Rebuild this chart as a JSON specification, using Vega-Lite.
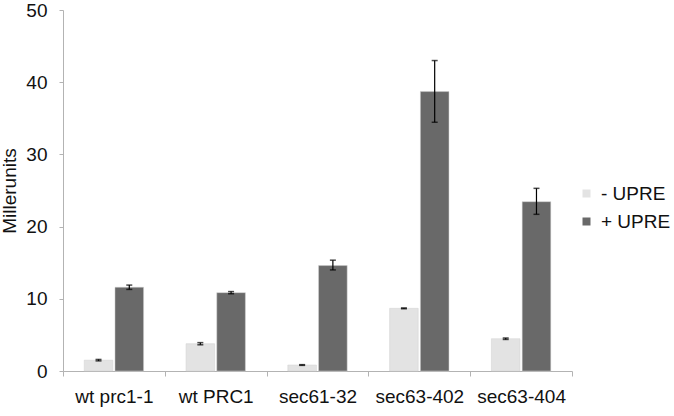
{
  "$schema": "https://vega.github.io/schema/vega-lite/v6.json",
  "width": 509,
  "height": 361,
  "autosize": {"type": "none"},
  "padding": {"left": 63, "top": 10, "right": 102, "bottom": 45},
  "background": "white",
  "config": {
    "view": {"stroke": null},
    "font": "Liberation Sans",
    "axis": {
      "domainColor": "#b3b3b3",
      "tickColor": "#b3b3b3",
      "grid": false,
      "labelFont": "Liberation Sans",
      "titleFont": "Liberation Sans",
      "labelColor": "#111",
      "titleColor": "#111",
      "labelFontSize": 19,
      "titleFontSize": 19,
      "titleFontWeight": "normal"
    }
  },
  "data": {
    "values": [
      {"strain": "wt prc1-1", "series": "- UPRE", "value": 1.5, "lo": 1.4, "hi": 1.6},
      {"strain": "wt prc1-1", "series": "+ UPRE", "value": 11.6, "lo": 11.3, "hi": 11.9},
      {"strain": "wt PRC1", "series": "- UPRE", "value": 3.78, "lo": 3.63, "hi": 3.93},
      {"strain": "wt PRC1", "series": "+ UPRE", "value": 10.85, "lo": 10.7, "hi": 11.0},
      {"strain": "sec61-32", "series": "- UPRE", "value": 0.83, "lo": 0.78, "hi": 0.88},
      {"strain": "sec61-32", "series": "+ UPRE", "value": 14.6, "lo": 14.0, "hi": 15.35},
      {"strain": "sec63-402", "series": "- UPRE", "value": 8.68, "lo": 8.62, "hi": 8.74},
      {"strain": "sec63-402", "series": "+ UPRE", "value": 38.7, "lo": 34.45, "hi": 43.0},
      {"strain": "sec63-404", "series": "- UPRE", "value": 4.47, "lo": 4.37, "hi": 4.57},
      {"strain": "sec63-404", "series": "+ UPRE", "value": 23.45, "lo": 21.7, "hi": 25.3}
    ]
  },
  "encoding": {
    "x": {
      "field": "strain",
      "type": "nominal",
      "sort": ["wt prc1-1", "wt PRC1", "sec61-32", "sec63-402", "sec63-404"],
      "scale": {"paddingInner": 0, "paddingOuter": 0},
      "axis": {"title": null, "labelAngle": 0, "tickBand": "extent", "tickSize": 5, "labelPadding": 11}
    },
    "xOffset": {
      "field": "series",
      "type": "nominal",
      "sort": ["- UPRE", "+ UPRE"],
      "scale": {"paddingInner": 0.07, "paddingOuter": 0.69}
    }
  },
  "layer": [
    {
      "mark": {"type": "bar", "stroke": "#d0d0d0", "strokeWidth": 0.5},
      "encoding": {
        "y": {
          "field": "value",
          "type": "quantitative",
          "scale": {"domain": [0, 50]},
          "axis": {"title": "Millerunits", "values": [0, 10, 20, 30, 40, 50], "tickSize": 4, "labelPadding": 12, "titlePadding": 6}
        },
        "color": {
          "field": "series",
          "type": "nominal",
          "sort": ["- UPRE", "+ UPRE"],
          "scale": {"domain": ["- UPRE", "+ UPRE"], "range": ["#e3e3e3", "#696969"]},
          "legend": {
            "title": null,
            "orient": "none",
            "legendX": 514,
            "legendY": 174,
            "padding": 0,
            "symbolType": "square",
            "symbolSize": 64,
            "symbolStrokeWidth": 0,
            "labelFontSize": 19,
            "labelFont": "Liberation Sans",
            "labelColor": "#111",
            "rowPadding": 8,
            "labelOffset": 5
          }
        }
      }
    },
    {
      "mark": {"type": "rule", "color": "black", "strokeWidth": 1.2},
      "encoding": {
        "y": {"field": "lo", "type": "quantitative"},
        "y2": {"field": "hi"}
      }
    },
    {
      "mark": {"type": "tick", "color": "black", "size": 6, "thickness": 1.5, "orient": "horizontal"},
      "encoding": {"y": {"field": "lo", "type": "quantitative"}}
    },
    {
      "mark": {"type": "tick", "color": "black", "size": 6, "thickness": 1.5, "orient": "horizontal"},
      "encoding": {"y": {"field": "hi", "type": "quantitative"}}
    }
  ]
}
